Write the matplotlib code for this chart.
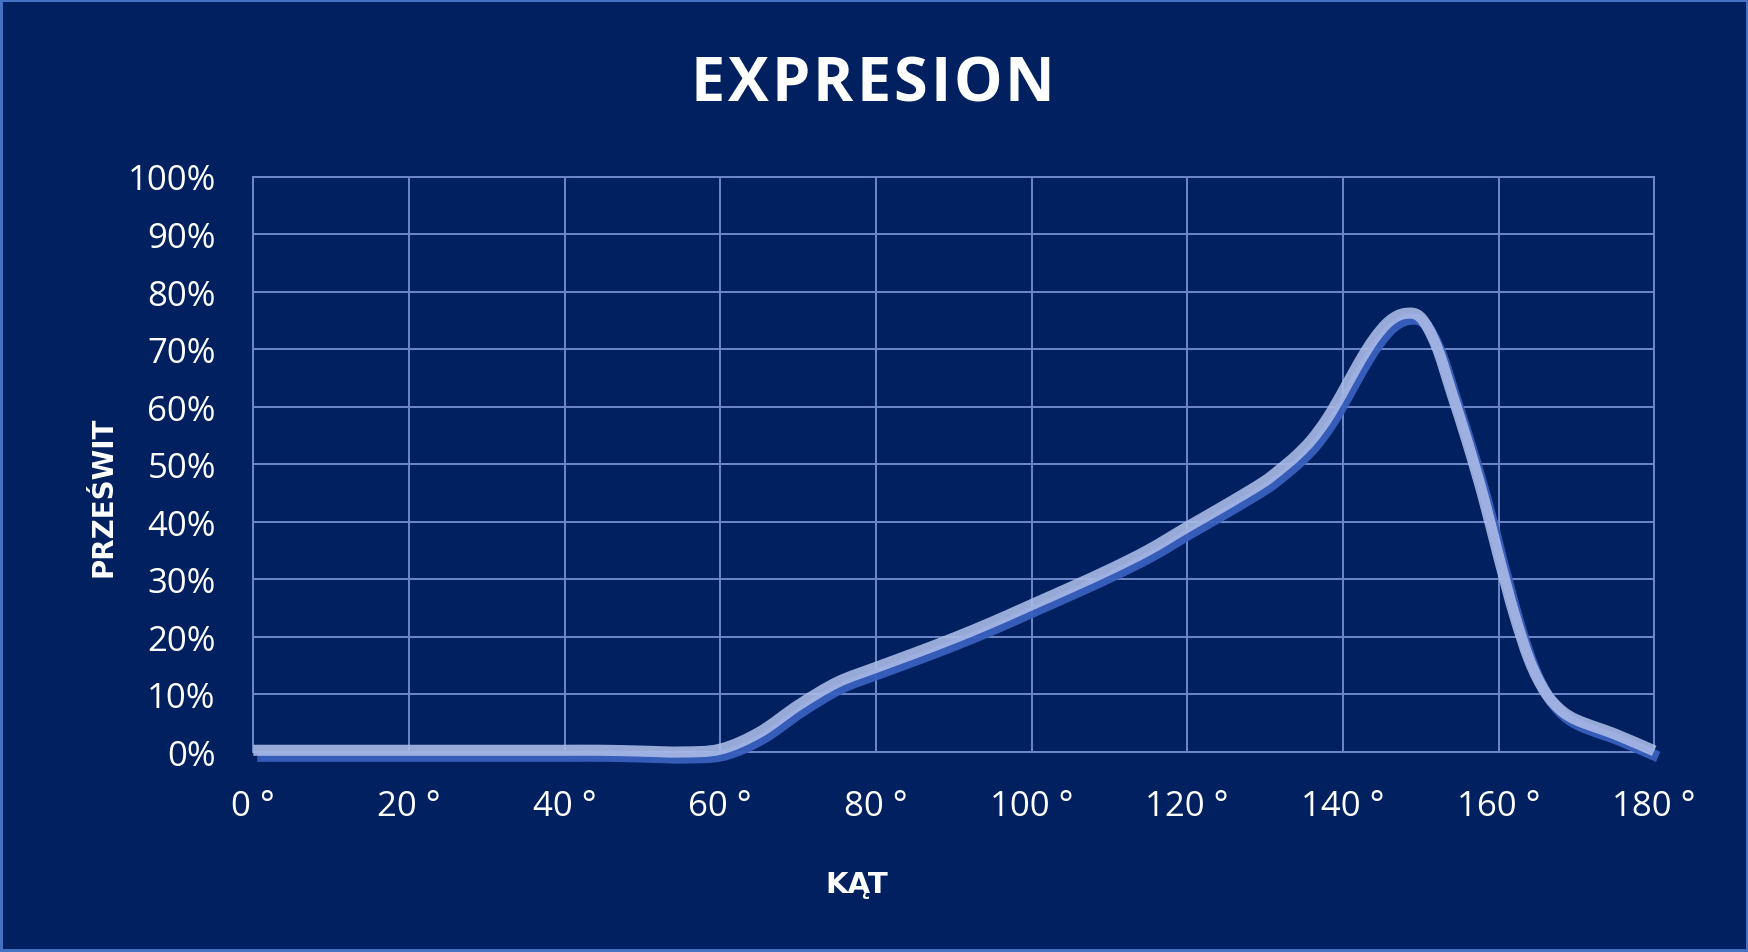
import matplotlib
matplotlib.use("Agg")
import matplotlib.pyplot as plt
from matplotlib.path import Path
from matplotlib.patches import PathPatch, Rectangle
from matplotlib import transforms

# ---- data ----
angles = [0, 5, 10, 15, 20, 25, 30, 35, 40, 45, 50, 55, 60, 65, 70, 75, 80, 85,
          90, 95, 100, 105, 110, 115, 120, 125, 130, 132, 134, 136, 138, 140,
          142, 144, 146, 148, 150, 152, 154, 156, 158, 160, 162, 164, 166, 168,
          170, 175, 180]
przeswit = [0.3, 0.3, 0.3, 0.3, 0.3, 0.3, 0.3, 0.3, 0.3, 0.3, 0.15, 0.0, 0.5,
            3.4, 8.1, 12.1, 14.7, 17.2, 19.8, 22.6, 25.6, 28.6, 31.7, 35.1,
            39.1, 43.0, 47.1, 49.2, 51.5, 54.3, 58.0, 62.6,
            67.5, 71.8, 74.9, 76.2, 75.5, 70.6, 62.3, 53.8, 44.5, 34.0, 24.0,
            15.8, 10.4, 7.3, 5.6, 3.1, 0.2]
x_ticks = [0, 20, 40, 60, 80, 100, 120, 140, 160, 180]
x_labels = [f"{v} °" for v in x_ticks]
y_ticks = [0, 10, 20, 30, 40, 50, 60, 70, 80, 90, 100]
y_labels = [f"{v}%" for v in y_ticks]
title = "EXPRESION"
xlabel = "KĄT"
ylabel = "PRZEŚWIT"

BG = "#002060"
GRID = "#6d88c8"

W, H = 1749, 953
fig = plt.figure(figsize=(W / 100, H / 100), dpi=100, facecolor=BG)
ax = fig.add_axes([253.3 / W, 1 - 753 / H, (1654.2 - 253.3) / W, (753 - 177.5) / H])
ax.set_facecolor(BG)
ax.set_xlim(0, 180)
ax.set_ylim(0, 100)
ax.set_xticks(x_ticks)
ax.set_xticklabels(x_labels)
ax.set_yticks(y_ticks)
ax.set_yticklabels(y_labels)
ax.tick_params(length=0, colors="white", labelsize=25, pad=27)
for lab in ax.get_xticklabels() + ax.get_yticklabels():
    lab.set_fontfamily("Open Sans")
ax.grid(True, color=GRID, lw=1.4, zorder=1)
for s in ax.spines.values():
    s.set_color(GRID)
    s.set_linewidth(1.4)
ax.set_axisbelow(True)

# smoothed line (Catmull-Rom -> cubic Bezier), like a spreadsheet "smoothed line"
pts = list(zip(angles, przeswit))
verts = [pts[0]]
codes = [Path.MOVETO]
n = len(pts)
for i in range(n - 1):
    p0 = pts[i - 1] if i > 0 else pts[i]
    p1 = pts[i]
    p2 = pts[i + 1]
    p3 = pts[i + 2] if i + 2 < n else pts[i + 1]
    d1 = (p2[0] - p1[0])
    t1x = (p2[0] - p0[0]) or 1e-9
    t2x = (p3[0] - p1[0]) or 1e-9
    s1 = d1 / t1x
    s2 = d1 / t2x
    c1 = (p1[0] + (p2[0] - p0[0]) * s1 / 3, p1[1] + (p2[1] - p0[1]) * s1 / 3)
    c2 = (p2[0] - (p3[0] - p1[0]) * s2 / 3, p2[1] - (p3[1] - p1[1]) * s2 / 3)
    verts += [c1, c2, p2]
    codes += [Path.CURVE4] * 3
path = Path(verts, codes)

shadow_tr = transforms.offset_copy(ax.transData, fig=fig, x=4, y=-6, units="dots")
shadow = PathPatch(path, facecolor="none", edgecolor="#3a60bf", lw=8,
                   capstyle="butt", joinstyle="round", transform=shadow_tr,
                   zorder=3, clip_on=False, alpha=0.95)
ax.add_patch(shadow)
main = PathPatch(path, facecolor="none", edgecolor="#adbde8", lw=8,
                 capstyle="butt", joinstyle="round", zorder=4, clip_on=False,
                 alpha=0.88)
ax.add_patch(main)

# title with letter spacing
renderer = fig.canvas.get_renderer()
tracking = 3.0  # px between letters
chars = []
widths = []
for ch in title:
    t = fig.text(0, 1 - 101 / H, ch, ha="left", va="baseline", color="white",
                 fontsize=44, fontweight="bold", family="Open Sans")
    w = t.get_window_extent(renderer).width
    chars.append(t)
    widths.append(w)
total = sum(widths) + tracking * (len(title) - 1)
xpos = 872.5 - total / 2
for t, w in zip(chars, widths):
    t.set_x(xpos / W)
    xpos += w + tracking

fig.text(857 / W, 1 - 892.7 / H, xlabel, ha="center", va="baseline",
         color="white", fontsize=21, fontweight="heavy", family="DejaVu Sans")
fig.text(111.7 / W, 1 - 496.7 / H, ylabel, ha="center", va="baseline",
         rotation=90, rotation_mode="anchor",
         color="white", fontsize=20, fontweight="heavy", family="DejaVu Sans")

fig.patches.append(Rectangle((0, 0), 1, 1, transform=fig.transFigure,
                             fill=False, edgecolor="#4472C4", lw=4.3))

fig.savefig("out.png", dpi=100, facecolor=BG)
